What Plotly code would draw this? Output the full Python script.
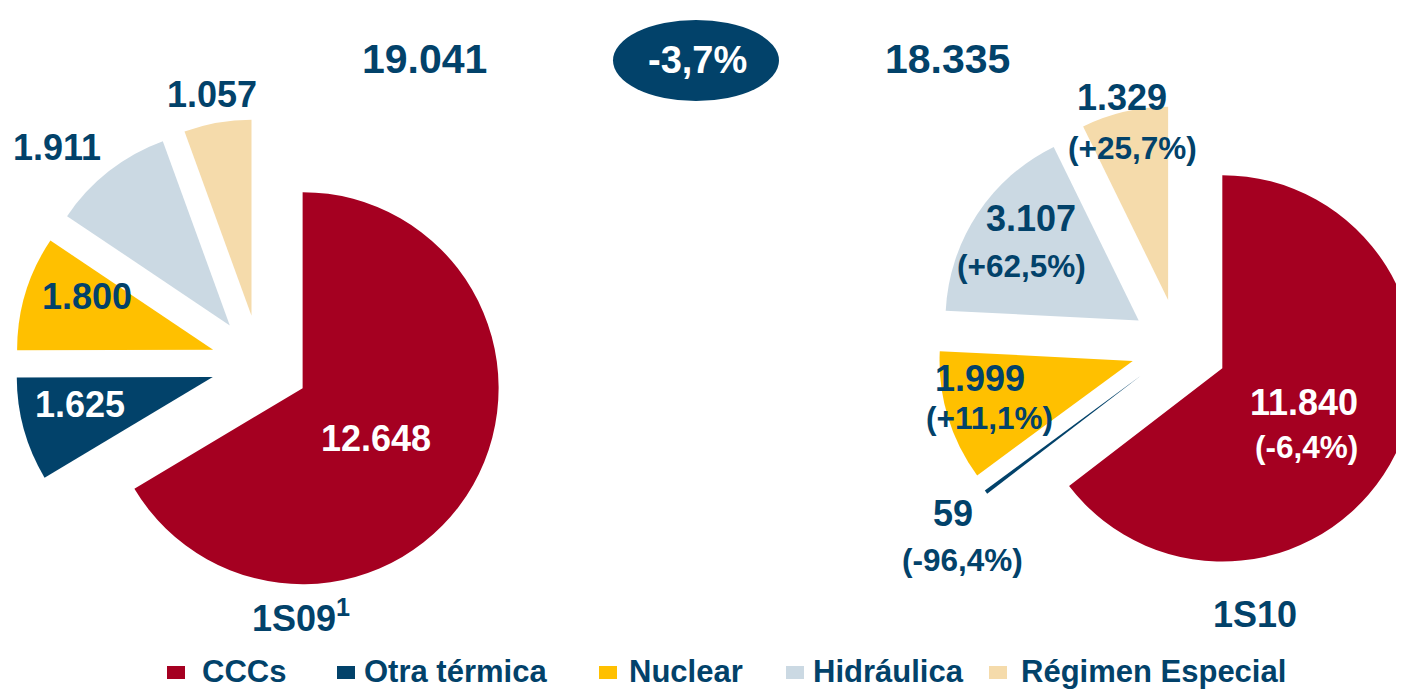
import plotly.graph_objects as go

# the page body adds an 8px margin; the figure is a bit wider than the window
# so the right pie gets cut by the edge, as in the slide
OFF = 8
W, H = 1416, 684

categories = ["CCCs", "Otra térmica", "Nuclear", "Hidráulica", "Régimen Especial"]
colors = ["#A50021", "#02426A", "#FFC000", "#CBD9E3", "#F5DBAB"]

values_1s09 = [12648, 1625, 1800, 1911, 1057]
values_1s10 = [11840, 59, 1999, 3107, 1329]
change_1s10 = ["-6,4%", "-96,4%", "+11,1%", "+62,5%", "+25,7%"]

periods = ["1S09<sup>1</sup>", "1S10"]
totals = ["19.041", "18.335"]
total_change = "-3,7%"

BLUE = "#02426A"
FONT = "Arial, Liberation Sans, sans-serif"


def px(x):
    return (x - OFF) / W


def py(y):
    return 1 - (y - OFF) / H


def fmt(v):
    return f"{v:,}".replace(",", ".")


def pie_domain(cx, cy, size):
    half = size / 2
    return dict(x=[px(cx - half), px(cx + half)], y=[py(cy + half), py(cy - half)])


pull = 0.25

fig = go.Figure()
fig.add_trace(go.Pie(
    labels=categories, values=values_1s09, sort=False, direction="clockwise", rotation=0,
    marker=dict(colors=colors, line=dict(width=0)), pull=[pull] * 5,
    textinfo="none", showlegend=False, domain=pie_domain(260, 364, 490),
))
fig.add_trace(go.Pie(
    labels=categories, values=values_1s10, sort=False, direction="clockwise", rotation=0,
    marker=dict(colors=colors, line=dict(width=0)), pull=[pull] * 5,
    textinfo="none", showlegend=False, domain=pie_domain(1179, 347, 483),
))

annotations = []


def add_text(text, x, y, size, color=BLUE, anchor="center"):
    annotations.append(dict(
        text=text, x=px(x), y=py(y), xref="paper", yref="paper", showarrow=False,
        xanchor=anchor, yanchor="middle", font=dict(family=FONT, size=size, color=color, weight="bold"),
    ))


# value labels, 1S09
left_pos = [(376, 438), (80, 404), (87, 296), (57, 147), (212, 94)]
left_col = ["white", "white", BLUE, BLUE, BLUE]
for v, (x, y), c in zip(values_1s09, left_pos, left_col):
    add_text(fmt(v), x, y, 36, c)

# value labels + change, 1S10
right_pos = [(1304, 402), (953, 513), (980, 378), (1031, 218), (1122, 98)]
right_pct_pos = [(1306, 447), (962, 560), (989, 418), (1021, 266), (1132, 148)]
right_col = ["white", BLUE, BLUE, BLUE, BLUE]
for v, ch, (x, y), (x2, y2), c in zip(values_1s10, change_1s10, right_pos, right_pct_pos, right_col):
    add_text(fmt(v), x, y, 36, c)
    add_text(f"({ch})", x2, y2, 31.5, c)

# totals and variation
add_text(totals[0], 424, 59, 41)
add_text(totals[1], 947, 59, 41)
add_text(total_change, 697, 60, 38, "white")

# period names
add_text(periods[0], 301, 616, 36)
add_text(periods[1], 1255, 614, 36)

# oval behind the variation
shapes = [dict(type="circle", xref="paper", yref="paper", x0=px(613), x1=px(779),
               y0=py(101), y1=py(20), fillcolor=BLUE, line=dict(width=0), layer="below")]

# legend, kept just inside the bottom edge
marker_x = [176, 346, 608, 795, 998]
text_x = [200, 362, 627, 811, 1019]
for name, c, mx, tx in zip(categories, colors, marker_x, text_x):
    shapes.append(dict(type="rect", xref="paper", yref="paper", x0=px(mx - 9), x1=px(mx + 9),
                       y0=py(679), y1=py(666), fillcolor=c, line=dict(width=0)))
    add_text(name, tx, 671, 31, BLUE, anchor="left")

fig.update_layout(
    width=W, height=H,
    margin=dict(l=0, r=0, t=0, b=0),
    paper_bgcolor="white",
    plot_bgcolor="white",
    annotations=annotations,
    shapes=shapes,
)

fig.write_html("out.html")
